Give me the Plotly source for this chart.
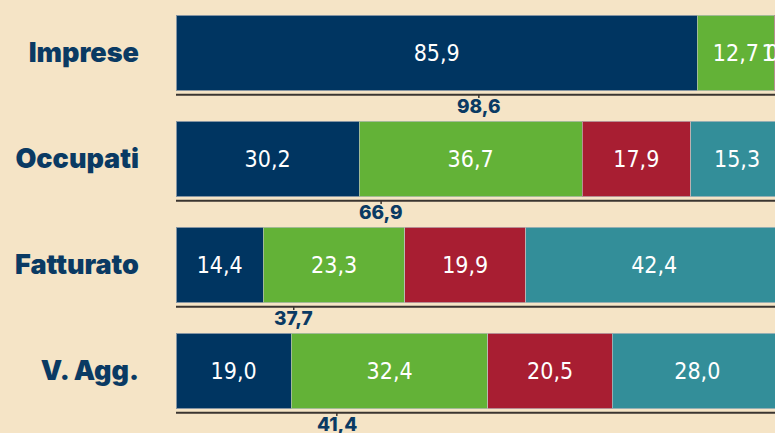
import plotly.graph_objects as go

categories = ["Imprese", "Occupati", "Fatturato", "V. Agg."]
seg1 = [85.9, 30.2, 14.4, 19.0]
seg2 = [12.7, 36.7, 23.3, 32.4]
seg3 = [1.2, 17.9, 19.9, 20.5]
seg4 = [0.2, 15.3, 42.4, 28.0]
sum_labels = ["98,6", "66,9", "37,7", "41,4"]
sum_label_pos = [49.9, 33.8, 19.4, 26.5]

colors = ["#003561", "#63b237", "#a81e32", "#338e99"]
bg = "#f5e4c6"

fig = go.Figure()
for vals, col in zip([seg1, seg2, seg3, seg4], colors):
    fig.add_trace(go.Bar(
        y=categories, x=vals, orientation="h",
        marker=dict(color=col, line=dict(color="rgba(190,190,190,0.7)", width=1)),
        text=[f"{v:.1f}".replace(".", ",") for v in vals],
        textposition="inside", insidetextanchor="middle", textangle=0,
        textfont=dict(family="DejaVu Sans Condensed, Liberation Sans Narrow, sans-serif", size=23, color="white"),
        hoverinfo="skip", showlegend=False,
    ))

for i, (lab, pos) in enumerate(zip(sum_labels, sum_label_pos)):
    fig.add_shape(type="line", xref="x", yref="y", x0=0, x1=100, y0=i + 0.395, y1=i + 0.395,
                  line=dict(color="#3a3530", width=2))
    fig.add_shape(type="line", xref="x", yref="y", x0=pos, x1=pos, y0=i + 0.395, y1=i + 0.425,
                  line=dict(color="#3a3530", width=1.5))
    fig.add_annotation(x=pos, y=i + 0.395, xref="x", yref="y", text=lab, showarrow=False,
                       font=dict(family="Inter, Roboto, sans-serif", size=19, color="#0a3a63", weight=800),
                       xanchor="center", yanchor="middle", yshift=-12)

fig.update_layout(
    barmode="stack", bargap=0.29,
    width=775, height=433,
    margin=dict(l=176, r=0, t=0, b=9),
    paper_bgcolor=bg, plot_bgcolor=bg,
    uniformtext=dict(minsize=23, mode="show"),
    xaxis=dict(range=[0, 98.7], visible=False, fixedrange=True),
    yaxis=dict(range=[3.5, -0.5], categoryorder="array", categoryarray=categories,
               showgrid=False, zeroline=False, showline=False, fixedrange=True,
               ticks="", ticklabelstandoff=36,
               tickfont=dict(family="Inter, Roboto, sans-serif", size=27, color="#0a3a63", weight=900)),
)

fig.write_html("out.html", config={"displayModeBar": False},
               post_script="document.body.style.margin='0';document.body.style.background='%s';" % bg)
